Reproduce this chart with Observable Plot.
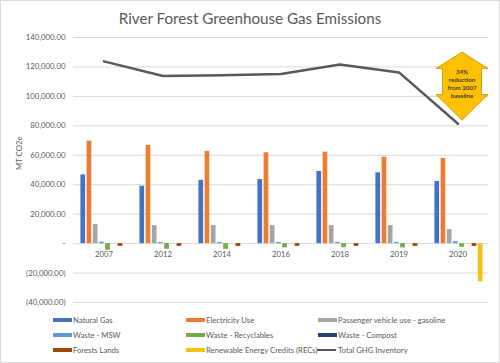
<!DOCTYPE html>
<html>
<head>
<meta charset="utf-8">
<script src="https://cdn.jsdelivr.net/npm/d3@7"></script>
<script src="https://cdn.jsdelivr.net/npm/@observablehq/plot@0.6"></script>
<style>
  html, body { margin: 0; padding: 0; background: #fff; }
  #chart { position: relative; width: 500px; height: 363px; overflow: hidden; background: #fff; font-family: Lato, "Open Sans", sans-serif; }
  #frame { position: absolute; left: 0; top: 0; width: 498px; height: 361px; border: 1px solid #d9d9d9; pointer-events: none; }
  #title { height: 30px; line-height: 36px; text-align: center; font-size: 15.2px; color: #595959; white-space: nowrap; }
  #plot svg { display: block; }
  #legend { position: absolute; left: 53px; top: 312px; display: grid; grid-template-columns: 133px 132px auto; font-size: 7.7px; color: #595959; }
  .item { display: flex; align-items: center; height: 15.4px; white-space: nowrap; }
  .sw { width: 19px; height: 4px; margin-right: 1px; }
  .ln { width: 19px; height: 2px; margin-right: 2px; }
</style>
</head>
<body>
<div id="chart">
  <div id="title">River Forest Greenhouse Gas Emissions</div>
  <div id="plot"></div>
  <div id="legend"></div>
  <div id="frame"></div>
</div>
<script>
// ---- data ----
const years = ["2007", "2012", "2014", "2016", "2018", "2019", "2020"];
const seriesNames = [
  "Natural Gas", "Electricity Use", "Passenger vehicle use - gasoline",
  "Waste - MSW", "Waste - Recyclables", "Waste - Compost",
  "Forests Lands", "Renewable Energy Credits (RECs)"
];
const naturalGas    = [46700, 39000, 43000, 43500, 49000, 48100, 42200];
const electricity   = [69600, 66700, 62600, 61700, 62100, 58700, 57800];
const passenger     = [12900, 12250, 12250, 12250, 12250, 12250, 9500];
const wasteMSW      = [1000, 800, 800, 800, 800, 800, 1300];
const recyclables   = [-4500, -3900, -3900, -2900, -2800, -2900, -2500];
const compost       = [0, 0, 0, 0, 0, 0, 0];
const forests       = [-1900, -1900, -1900, -1900, -1900, -1900, -1900];
const recs          = [0, 0, 0, 0, 0, 0, -26000];
const totalGHG      = [123800, 113800, 114300, 115200, 121600, 116300, 81400];
const totalName     = "Total GHG Inventory";
const yTicks        = [-40000, -20000, 0, 20000, 40000, 60000, 80000, 100000, 120000, 140000];
const annotationText = "34%\nreduction\nfrom 2007\nbaseline";
const annotationAt  = {year: "2020", value: 107000};

// ---- styles ----
const colors = ["#4472C4", "#ED7D31", "#A5A5A5", "#5B9BD5", "#70AD47", "#264478", "#9E480E", "#F5C211"];
const lineColor = "#595959";

const seriesValues = [naturalGas, electricity, passenger, wasteMSW, recyclables, compost, forests, recs];
const bars = [];
seriesNames.forEach((s, i) => years.forEach((y, j) => bars.push({series: s, idx: i, year: y, value: seriesValues[i][j]})));
const totals = years.map((y, j) => ({year: y, value: totalGHG[j]}));
const yearLabels = years.map(y => ({year: y, value: 0}));

const fmt = d3.format(",.2f");
const acct = d => d === 0 ? "-" : d < 0 ? `(${fmt(-d)})` : fmt(d);

const W = 500, mL = 73, mR = 12;
const bw = (W - mL - mR) / years.length;
const start = 6.4, step = 6.2, barW = 5;

// custom double-headed vertical arrow symbol (px units when r = 1)
const dblArrow = {
  draw(ctx, size) {
    const k = Math.sqrt(size / Math.PI);
    const pts = [[0,-34],[26,-17.5],[19.5,-17.5],[19.5,8.5],[26,8.5],[0,34],[-26,8.5],[-19.5,8.5],[-19.5,-17.5],[-26,-17.5]];
    ctx.moveTo(pts[0][0]*k, pts[0][1]*k);
    for (const p of pts.slice(1)) ctx.lineTo(p[0]*k, p[1]*k);
    ctx.closePath();
  }
};

const marks = [
  Plot.ruleY(yTicks, {stroke: "#d9d9d9", strokeWidth: 1}),
  ...seriesNames.map((s, i) => Plot.barY(bars.filter(d => d.idx === i), {
    x: "year", y: "value", fill: colors[i],
    insetLeft: start + i * step,
    insetRight: bw - (start + i * step + barW)
  })),
  Plot.line(totals, {x: "year", y: "value", stroke: lineColor, strokeWidth: 2.5}),
  Plot.text(yearLabels, {x: "year", y: "value", text: "year", dy: 11, fill: "#595959", fontSize: 7.8}),
  Plot.dot([annotationAt], {x: "year", y: "value", dx: 4, r: 1, symbol: dblArrow, fill: "#FFC000", stroke: "#C09000", strokeWidth: 0.8}),
  Plot.text([annotationAt], {x: "year", y: "value", dx: 4, dy: -3, text: () => annotationText, fontSize: 6.2, fontWeight: "bold", lineHeight: 1.3, fill: "#404040"}),
  Plot.text(["MT CO2e"], {frameAnchor: "left", dx: -54, rotate: -90, fill: "#595959", fontSize: 7.8})
];

const chart = Plot.plot({
  width: W,
  height: 278,
  marginTop: 7,
  marginBottom: 6,
  marginLeft: mL,
  marginRight: mR,
  style: {fontFamily: "Lato, 'Open Sans', sans-serif", fontSize: "7.8px", color: "#595959", background: "transparent"},
  x: {type: "band", domain: years, padding: 0, axis: null},
  y: {domain: [-40000, 140000], ticks: yTicks, tickFormat: acct, tickSize: 0, tickPadding: 8, label: null},
  marks
});
document.getElementById("plot").appendChild(chart);

// ---- legend ----
const legend = document.getElementById("legend");
seriesNames.forEach((s, i) => {
  const it = document.createElement("div");
  it.className = "item";
  it.innerHTML = `<span class="sw" style="background:${colors[i]}"></span><span>${s}</span>`;
  legend.appendChild(it);
});
const tl = document.createElement("div");
tl.className = "item";
tl.style.marginLeft = "-1px";
tl.innerHTML = `<span class="ln" style="background:${lineColor}"></span><span>${totalName}</span>`;
legend.appendChild(tl);
</script>
</body>
</html>
